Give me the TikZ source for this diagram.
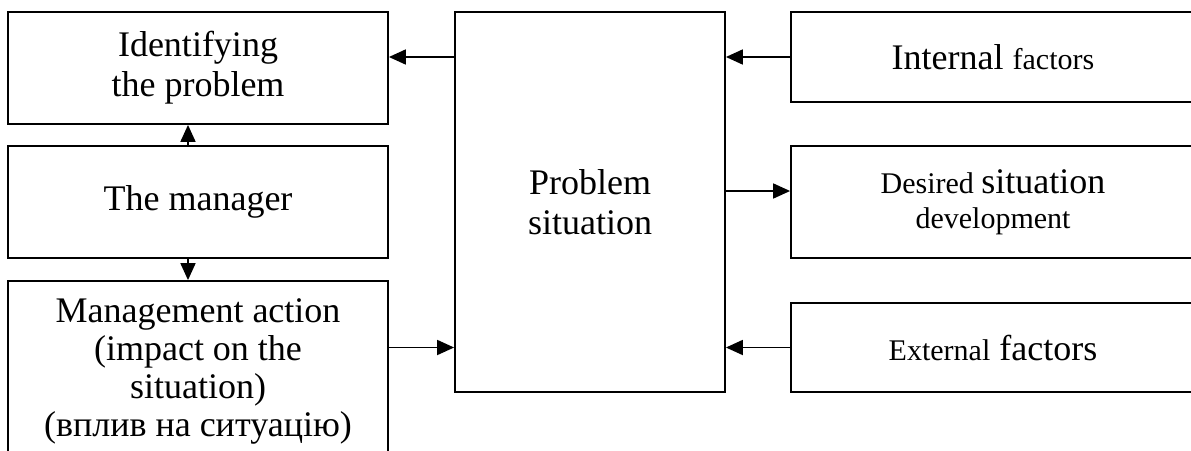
\documentclass[tikz,border=0pt]{standalone}
\usepackage{fontspec}
\setmainfont{Liberation Serif}
\usetikzlibrary{arrows.meta}
\tikzset{
  box/.style={draw, line width=1.8pt, inner sep=0pt, align=center, font=\fontsize{36}{40}\selectfont},
  arr/.style={line width=1.8pt, -{Triangle[length=17pt,width=15pt]}}
}
\newcommand{\largeword}[1]{{\fontsize{36}{40}\selectfont #1}}
\newcommand{\smallword}[1]{{\fontsize{30}{35}\selectfont #1}}
\begin{document}
\begin{tikzpicture}[x=1pt,y=-1pt]
  \useasboundingbox (0,0) rectangle (1191,450);
  \clip (0,0) rectangle (1191,450);
  % left column
  \node[box, minimum width=380pt, minimum height=112pt] (idf) at (198,68) {Identifying\\the problem};
  \node[box, minimum width=380pt, minimum height=112pt] (mgr) at (198,202) {The manager};
  \node[box, minimum width=380pt, minimum height=180pt, font=\fontsize{36}{38}\selectfont] (act) at (198,371)
    {Management action\\(impact on the\\situation)\\(вплив на ситуацію)};
  % centre
  \node[box, minimum width=270pt, minimum height=380pt] (ps) at (590,202) {Problem\\situation};
  % right column
  \node[box, minimum width=404pt, minimum height=90pt] (int) at (993,57)
    {Internal \smallword{factors}};
  \node[box, minimum width=404pt, minimum height=112pt, font=\fontsize{30}{35}\selectfont] (des) at (993,202)
    {Desired \largeword{situation}\\development};
  \node[box, minimum width=404pt, minimum height=89pt] (ext) at (993,347.5)
    {\smallword{External} factors};
  % connectors
  \draw[arr] (ps.west |- int.west) -- (idf.east |- int.west);
  \draw[arr] ([xshift=-10pt]mgr.north) -- ([xshift=-10pt]idf.south);
  \draw[arr] ([xshift=-10pt]mgr.south) -- ([xshift=-10pt]act.north);
  \draw[arr] (act.east |- ext.west) -- (ps.west |- ext.west);
  \draw[arr] (int.west) -- (int.west -| ps.east);
  \draw[arr] ([yshift=11pt]ps.east) -- ([yshift=11pt]ps.east -| des.west);
  \draw[arr] (ext.west) -- (ext.west -| ps.east);
\end{tikzpicture}
\end{document}
